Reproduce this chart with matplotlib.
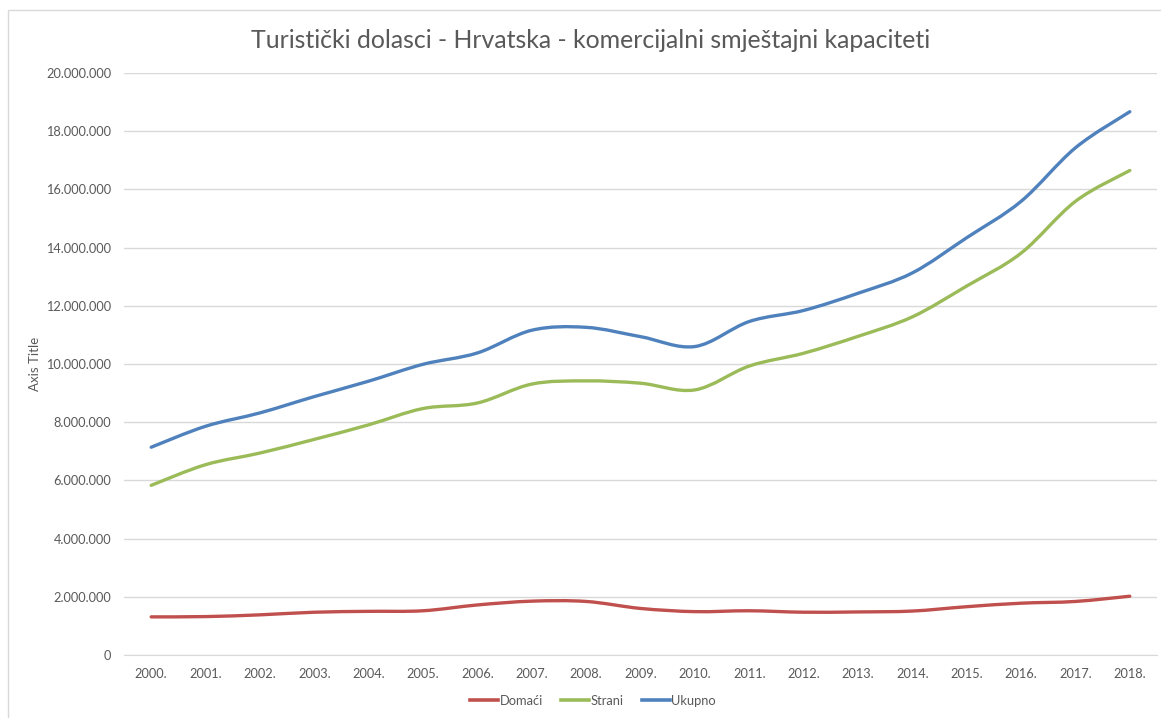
import matplotlib
matplotlib.use("Agg")
import matplotlib.pyplot as plt
from matplotlib.path import Path
from matplotlib.patches import PathPatch, Rectangle
from matplotlib.lines import Line2D
from matplotlib.ticker import FuncFormatter, MultipleLocator

years = ["2000.", "2001.", "2002.", "2003.", "2004.", "2005.", "2006.", "2007.", "2008.", "2009.",
         "2010.", "2011.", "2012.", "2013.", "2014.", "2015.", "2016.", "2017.", "2018."]
domaci = [1310000, 1320000, 1380000, 1470000, 1500000, 1520000, 1720000, 1850000, 1840000, 1600000,
          1490000, 1520000, 1470000, 1480000, 1510000, 1660000, 1780000, 1840000, 2020000]
strani = [5830000, 6540000, 6940000, 7410000, 7910000, 8470000, 8660000, 9310000, 9420000, 9340000,
          9110000, 9930000, 10370000, 10950000, 11620000, 12680000, 13810000, 15590000, 16650000]
ukupno = [7140000, 7860000, 8320000, 8880000, 9410000, 9990000, 10380000, 11160000, 11260000, 10940000,
          10600000, 11460000, 11840000, 12430000, 13130000, 14340000, 15590000, 17430000, 18670000]

series = [("Domaći", domaci, "#C0504D"), ("Strani", strani, "#9BBB59"), ("Ukupno", ukupno, "#4F81BD")]

plt.rcParams['font.family'] = ['Lato', 'DejaVu Sans']
txt = "#595959"

fig = plt.figure(figsize=(11.61, 7.18), dpi=100)
fig.patches.append(Rectangle((8/1161, -0.01), 1.02, (718-10)/718 + 0.01, transform=fig.transFigure,
                             fill=False, edgecolor="#D9D9D9", linewidth=1.0))
ax = fig.add_axes([124/1161, 63/718, (1157-124)/1161, (655-73)/718])


def smooth_path(xs, ys):
    pts = list(zip(xs, ys))
    verts = [pts[0]]
    codes = [Path.MOVETO]
    n = len(pts)
    for i in range(n - 1):
        p0 = pts[i - 1] if i > 0 else pts[i]
        p1 = pts[i]
        p2 = pts[i + 1]
        p3 = pts[i + 2] if i + 2 < n else pts[i + 1]
        c1 = (p1[0] + (p2[0] - p0[0]) / 6, p1[1] + (p2[1] - p0[1]) / 6)
        c2 = (p2[0] - (p3[0] - p1[0]) / 6, p2[1] - (p3[1] - p1[1]) / 6)
        verts += [c1, c2, p2]
        codes += [Path.CURVE4] * 3
    return Path(verts, codes)


xs = list(range(len(years)))
handles = []
for name, vals, col in series:
    ax.add_patch(PathPatch(smooth_path(xs, vals), fill=False, edgecolor=col, linewidth=2.4,
                           capstyle="round", joinstyle="round", zorder=3))
    handles.append(Line2D([0], [0], color=col, linewidth=2.6, label=name))

ax.set_xlim(-0.5, len(years) - 0.5)
ax.set_ylim(0, 20000000)
ax.set_xticks(xs)
ax.set_xticklabels(years)
ax.yaxis.set_major_locator(MultipleLocator(2000000))
ax.yaxis.set_major_formatter(FuncFormatter(lambda v, p: f"{int(v):,}".replace(",", ".")))
ax.grid(axis="y", color="#D9D9D9", linewidth=1)
ax.set_axisbelow(True)
for s in ["top", "right", "left"]:
    ax.spines[s].set_visible(False)
ax.spines["bottom"].set_color("#D9D9D9")
ax.tick_params(axis="both", length=0, colors=txt, labelsize=9.2)
ax.tick_params(axis="y", pad=9)
ax.tick_params(axis="x", pad=9)
ax.set_ylabel("Axis Title", color=txt, fontsize=9.5, labelpad=4)

fig.text(591/1161, 1 - 40/718, "Turistički dolasci - Hrvatska - komercijalni smještajni kapaciteti",
         ha="center", va="center", fontsize=17.9, color=txt)

fig.legend(handles=handles, loc="center", bbox_to_anchor=(593/1161, 1 - 701/718), ncol=3, frameon=False,
           fontsize=9.3, labelcolor=txt, handlelength=2.2, handletextpad=0.1, columnspacing=1.4)

fig.savefig("out.png", dpi=100)
